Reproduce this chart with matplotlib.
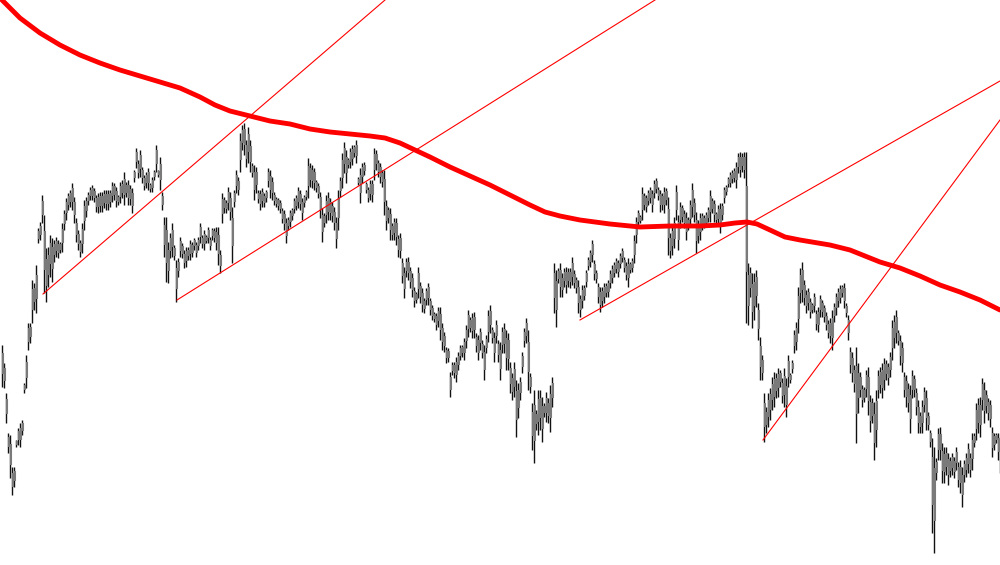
import numpy as np
import matplotlib
matplotlib.use("Agg")
import matplotlib.pyplot as plt

# bar tops / bottoms (price axis is inverted)
bar_top = [
    345, 363, 393, 433, 435, 467, 467, 440, 428, 423, 420, 383, 355, 323, 323, 280, 283, 265, 228, 222, 195,
    215, 248, 247, 235, 238, 240, 237, 240, 242, 223, 210, 198, 193, 190, 183, 197, 218, 230, 240, 223,
    200, 197, 192, 187, 185, 188, 195, 193, 192, 192, 190, 190,
    190, 190, 182, 183, 187, 195, 182, 180, 172, 182, 180, 185, 188, 170, 148, 160, 150, 167, 175, 172, 168, 183,
    177, 170, 145, 170, 157, 192, 217, 217, 242, 233, 223, 245, 260, 258, 237, 243, 250, 247, 247, 240,
    242, 238, 242, 237, 223, 235, 230, 235, 227, 237, 228, 228, 227, 227,
    250, 193, 197, 200, 187, 192, 207, 190, 170, 177, 133, 125, 123, 140, 127, 140, 163, 165, 167, 190,
    190, 188, 193, 190, 168, 170, 177, 192, 197, 198, 200, 208, 210, 218, 217, 210, 208, 198, 195, 187,
    190, 198, 195, 190, 158, 163, 165, 168, 180, 183, 192, 208, 213, 195, 192, 198,
    202, 207, 217, 190, 177, 153, 142, 150, 158, 148, 145, 145, 140, 177, 168, 163, 162, 182, 187, 180,
    180, 148, 150, 160, 163, 170, 170, 200, 207, 208, 223, 218, 218, 235, 233, 258, 267, 258, 257, 267,
    273, 287, 292, 267, 282, 288, 298, 288, 283, 298, 305, 312, 313, 307, 307,
    323, 332, 347, 348, 372, 362, 362, 357, 352, 345, 345, 338, 325, 310, 317, 313, 312, 333, 335, 328,
    340, 345, 335, 310, 305, 327, 332, 320, 340, 342, 327, 323, 330, 333, 362, 373, 362, 380, 383, 377,
    352, 328, 318, 330, 373, 403, 390, 410, 390, 390, 397, 403, 392, 398, 385, 377,
    263, 270, 268, 263, 273, 268, 267, 268, 268, 257, 270, 277, 280, 295, 285, 285, 270, 257, 250,
    240, 260, 270, 283, 287, 287, 283, 283, 280, 270, 265, 262, 258, 260, 253, 248, 257, 262, 258, 262,
    258, 235, 217, 210, 215, 187, 193, 195, 190, 187, 190, 180, 178, 187, 190,
    193, 187, 188, 197, 233, 225, 217, 185, 215, 202, 205, 210, 212, 217, 200, 183, 198, 212, 220, 213,
    213, 215, 212, 207, 190, 198, 200, 212, 205, 203, 203, 187, 185, 177, 172, 170, 168, 162, 153, 152,
    153, 152, 152, 263, 267, 273, 273, 270, 303, 337, 355, 393, 407, 393, 388, 377,
    372, 373, 368, 370, 378, 368, 378, 355, 373, 360, 330, 322, 287, 268, 262, 280, 290, 288, 298, 303,
    293, 310, 307, 295, 300, 305, 312, 320, 318, 310, 303, 293, 288, 285, 285, 283, 303, 315, 347,
    352, 365, 347, 363, 372, 385, 387, 370, 367, 395, 398, 402, 390, 370, 367,
    363, 358, 360, 363, 352, 320, 315, 310, 330, 335, 342, 372, 375, 383, 385, 370, 375, 388, 400, 412,
    400, 387, 390, 412, 430, 438, 447, 458, 428, 427, 443, 447, 447, 453, 457, 453, 457, 447, 462, 460,
    467, 460, 453, 443, 453, 433, 433, 403, 398, 397, 378, 382, 390, 398, 400, 427, 433, 433, 433, 437,
]
bar_bottom = [
    387, 388, 423, 453, 478, 495, 487, 447, 445, 447, 435, 393, 388, 350, 343, 323, 310, 313, 243, 240, 223,
    293, 302, 287, 277, 282, 262, 257, 258, 253, 252, 230, 220, 210, 207, 210, 223, 242, 250, 257, 253,
    230, 217, 205, 200, 200, 202, 212, 213, 212, 212, 208, 210,
    210, 207, 202, 200, 207, 205, 203, 198, 205, 197, 205, 205, 213, 182, 168, 178, 177, 183, 190, 188, 190, 192,
    192, 180, 172, 177, 190, 210, 257, 282, 283, 258, 257, 260, 302, 277, 257, 258, 268, 267, 260, 260,
    257, 250, 257, 250, 243, 248, 250, 243, 243, 250, 240, 242, 250, 265,
    273, 223, 213, 213, 210, 220, 263, 207, 193, 195, 172, 150, 155, 167, 163, 172, 177, 200, 193, 203,
    210, 207, 207, 202, 187, 198, 200, 205, 207, 210, 213, 223, 230, 243, 230, 227, 220, 213, 210, 208,
    210, 220, 207, 200, 198, 187, 188, 190, 192, 198, 218, 242, 227, 223, 220, 220,
    222, 230, 248, 230, 197, 188, 173, 183, 168, 168, 165, 157, 163, 185, 203, 183, 175, 193, 202, 200,
    202, 180, 170, 177, 183, 187, 215, 230, 223, 240, 240, 240, 245, 257, 258, 283, 298, 277, 280, 288,
    297, 307, 303, 298, 303, 312, 313, 305, 305, 315, 320, 322, 330, 327, 340,
    350, 352, 363, 362, 397, 375, 378, 382, 370, 360, 357, 360, 348, 337, 332, 338, 338, 352, 360, 350,
    358, 380, 353, 342, 333, 343, 362, 343, 362, 380, 353, 353, 370, 370, 393, 400, 397, 437, 418, 400,
    373, 347, 343, 390, 393, 450, 463, 430, 435, 430, 442, 417, 422, 423, 432, 407,
    313, 327, 283, 297, 297, 287, 293, 287, 288, 285, 288, 293, 313, 317, 308, 300, 287, 270, 267,
    262, 280, 283, 303, 312, 307, 303, 297, 297, 288, 283, 277, 273, 277, 268, 262, 272, 280, 287, 273,
    272, 263, 243, 227, 223, 220, 210, 212, 205, 203, 212, 198, 193, 200, 212,
    210, 213, 205, 255, 258, 255, 248, 220, 250, 228, 222, 228, 240, 230, 227, 217, 222, 253, 243, 240,
    230, 228, 227, 222, 222, 213, 222, 223, 225, 233, 220, 203, 195, 187, 187, 183, 182, 188, 173, 177,
    172, 178, 323, 325, 297, 328, 320, 307, 340, 380, 380, 442, 433, 427, 420, 410,
    407, 398, 397, 387, 403, 407, 417, 387, 383, 373, 353, 350, 333, 303, 302, 305, 313, 310, 318, 313,
    312, 330, 332, 317, 317, 322, 330, 338, 343, 350, 322, 315, 307, 303, 297, 308, 317, 340, 373,
    382, 392, 443, 413, 397, 407, 402, 397, 415, 432, 423, 460, 447, 398, 393,
    398, 390, 380, 385, 377, 360, 348, 343, 345, 365, 372, 397, 407, 412, 433, 398, 397, 415, 433, 433,
    433, 412, 430, 430, 447, 533, 553, 480, 460, 460, 483, 483, 475, 485, 477, 475, 478, 470, 487, 493,
    507, 482, 477, 473, 477, 470, 447, 440, 433, 437, 410, 423, 413, 420, 427, 457, 450, 443, 460, 473,
]

# slow moving average (bar index, level)
ma_bar = [-1, 9, 19, 29, 39, 49, 59, 69, 79, 89, 99, 106.5, 114, 124, 134, 144, 154, 164, 174, 184,
          191.5, 199, 206.5, 214, 224, 234, 244, 254, 264, 271.5, 279, 289, 304, 319, 334, 349, 359,
          366.5, 372.5, 377.5, 384, 391.5, 399, 414, 424, 431.5, 439, 449, 459, 469, 479, 489, 499]
ma_level = [-2, 18, 33, 45, 55, 63, 70, 76, 82, 88, 97, 105, 111, 116, 121, 124, 129, 132, 134, 136,
            138, 143, 150, 157, 167, 176, 185, 195, 205, 212, 216, 220, 224, 227, 226, 226, 225,
            223, 222, 224, 230, 237, 240, 245, 250, 256, 262, 268, 276, 285, 292, 300, 310]

# trend lines: start bar, start level, end bar, end level
trend_lines = [
    (20.5, 294, 191.5, 0),
    (87.5, 300, 326.5, 0),
    (289, 320, 499, 81),
    (380.5, 440, 499, 120),
]

n = min(len(bar_top), len(bar_bottom))
top = np.array(bar_top[:n], dtype=float)
bot = np.array(bar_bottom[:n], dtype=float)
idx = np.arange(n)

fig = plt.figure(figsize=(10, 5.65), dpi=100)
ax = fig.add_axes([0, 0, 1, 1])

# candles: black wick, grey body
ax.vlines(idx, top, bot, colors='#111111', linewidth=1.0)
body_top = top + (bot - top) * 0.2
body_bot = bot - (bot - top) * 0.3
ax.vlines(idx + 0.4, body_top, body_bot, colors='#7a7a7a', linewidth=1.5)

ax.plot(ma_bar, ma_level, color='#ff0000', linewidth=3.5, solid_capstyle='round')

for x0, y0, x1, y1 in trend_lines:
    ax.plot([x0, x1], [y0, y1], color='#ff0000', linewidth=0.8)

ax.set_xlim(-1, 499)
ax.set_ylim(565, 0)
ax.axis('off')

plt.savefig('out.png', dpi=100)
